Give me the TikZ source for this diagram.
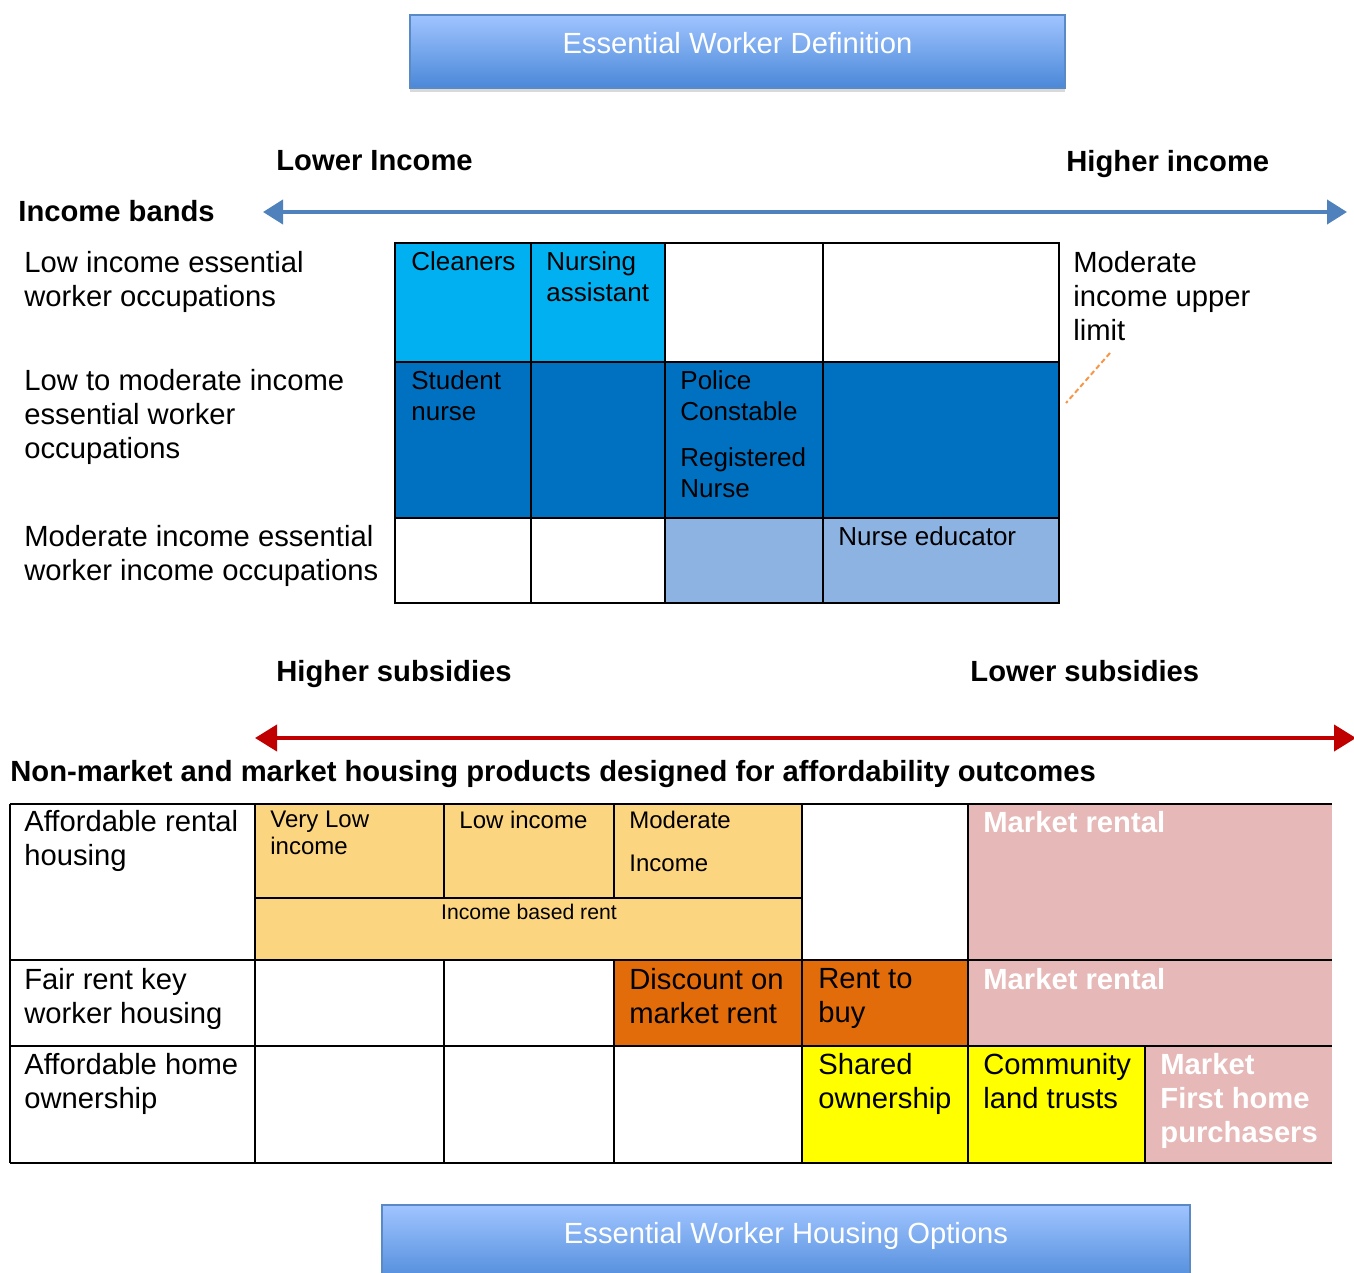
\documentclass[tikz,border=0pt]{standalone}
\usepackage{fontspec}
\setmainfont{Liberation Sans}
\usetikzlibrary{arrows.meta,shadows}
\definecolor{bandcyan}{HTML}{00B0F0}
\definecolor{banddark}{HTML}{0070C0}
\definecolor{bandlight}{HTML}{8DB3E2}
\definecolor{rentpale}{HTML}{FCD580}
\definecolor{rentorange}{HTML}{E36C0A}
\definecolor{ownyellow}{HTML}{FFFF00}
\definecolor{marketpink}{HTML}{E6B8B7}
\definecolor{arrowblue}{HTML}{4F81BD}
\definecolor{arrowred}{HTML}{C00000}
\definecolor{limitorange}{HTML}{F79646}
\definecolor{boxtop}{HTML}{A0C4FF}
\definecolor{boxbottom}{HTML}{4A88D8}
\definecolor{boxborder}{HTML}{5A8AC6}
\tikzset{
  every node/.append style={inner sep=0pt,anchor=north west,align=left},
  lbl/.style={font=\fontsize{14.6}{17}\selectfont},
  hdr/.style={font=\bfseries\fontsize{14.6}{17}\selectfont},
  cellt/.style={font=\fontsize{13}{15.5}\selectfont},
  smallt/.style={font=\fontsize{12}{13.5}\selectfont},
  mkt/.style={hdr,text=white},
  gridline/.style={line width=1pt,black},
  titlebox/.style={anchor=north,align=center,draw=boxborder,line width=1pt,
    top color=boxtop,bottom color=boxbottom,text=white,
    font=\fontsize{14.6}{17}\selectfont,
    drop shadow={shadow xshift=0pt,shadow yshift=-2pt,opacity=0.3}},
  bandarrow/.style={draw=arrowblue,fill=arrowblue,line width=2pt,
    {Triangle[length=10pt,width=12pt]}-{Triangle[length=10pt,width=12pt]}},
  subsarrow/.style={draw=arrowred,fill=arrowred,line width=2pt,
    {Triangle[length=11pt,width=13pt]}-{Triangle[length=11pt,width=13pt]}}
}

\begin{document}
\begin{tikzpicture}[x=0.5pt,y=-0.5pt]
  \useasboundingbox (0,0) rectangle (1354,1273);

  % title boxes
  \node[titlebox,minimum width=327.5pt,text height=19.5pt,text depth=17pt]
    (defbox) at (737.5,14) {Essential Worker Definition};
  \node[titlebox,minimum width=404pt,text height=19pt,text depth=22pt]
    (optbox) at (786,1204) {Essential Worker Housing Options};

  % income axis
  \node[hdr] (lowinc) at (276,150) {Lower Income};
  \node[hdr] (highinc) at (1066,150) {Higher income};
  \node[hdr] (bands) at (18,200) {Income bands};
  \coordinate (incleft) at (263,212);
  \coordinate (incright) at (1347,212);
  \draw[bandarrow] (incleft) -- (incright);

  % income band table
  \fill[bandcyan] (395,243) rectangle (665,362);
  \fill[banddark] (395,362) rectangle (1059,518);
  \fill[bandlight] (665,518) rectangle (1059,603);
  \draw[gridline] (395,243) rectangle (1059,603);
  \foreach \yy in {362,518} {
    \draw[gridline] (395,\yy) -- (1059,\yy);
  }
  \foreach \xx in {531,665,823} {
    \draw[gridline] (\xx,243) -- (\xx,603);
  }
  \node[lbl] (lowocc) at (24,251) {Low income essential\\worker occupations};
  \node[lbl] (midocc) at (24,369) {Low to moderate income\\essential worker\\occupations};
  \node[lbl] (modocc) at (24,525) {Moderate income essential\\worker income occupations};
  \node[lbl] (upper) at (1073,251) {Moderate\\income upper\\limit};
  \coordinate (limittop) at (1110,353);
  \coordinate (limitbot) at (1066,403);
  \draw[limitorange,line width=1pt,dash pattern=on 2.5pt off 1.5pt] (limittop) -- (limitbot);
  \node[cellt] (cleaners) at (411,251) {Cleaners};
  \node[cellt] (nursing) at (546,251) {Nursing\\assistant};
  \node[cellt] (student) at (411,370) {Student\\nurse};
  \node[cellt] (police) at (680,370) {Police\\Constable\\[7.5pt]Registered\\Nurse};
  \node[cellt] (educator) at (838,526) {Nurse educator};

  % subsidy axis
  \node[hdr] (highsub) at (276,660) {Higher subsidies};
  \node[hdr] (lowsub) at (970,660) {Lower subsidies};
  \coordinate (subleft) at (255,738);
  \coordinate (subright) at (1356,738);
  \draw[subsarrow] (subleft) -- (subright);
  \node[hdr] (products) at (10,760) {Non-market and market housing products designed for affordability outcomes};

  % housing products table
  \fill[rentpale] (255,804) rectangle (802,960);
  \fill[marketpink] (968,804) rectangle (1332,1046);
  \fill[rentorange] (614,960) rectangle (968,1046);
  \fill[ownyellow] (802,1046) rectangle (1145,1163);
  \fill[marketpink] (1145,1046) rectangle (1332,1163);
  \foreach \yy in {804,960,1046,1163} {
    \draw[gridline] (10,\yy) -- (1332,\yy);
  }
  \draw[gridline] (255,898) -- (802,898);
  \foreach \xx in {10,255,802,968} {
    \draw[gridline] (\xx,804) -- (\xx,1163);
  }
  \foreach \xx in {444,614} {
    \draw[gridline] (\xx,804) -- (\xx,898);
    \draw[gridline] (\xx,960) -- (\xx,1163);
  }
  \draw[gridline] (1145,1046) -- (1145,1163);

  \node[lbl] (rentrow) at (24,810) {Affordable rental\\housing};
  \node[lbl] (fairrow) at (24,968) {Fair rent key\\worker housing};
  \node[lbl] (homerow) at (24,1053) {Affordable home\\ownership};
  \node[smallt] (verylow) at (270,811) {Very Low\\income};
  \node[smallt] (lowrent) at (459,811) {Low income};
  \node[smallt] (modrent) at (629,811) {Moderate\\[8pt]Income};
  \node[anchor=north,font=\fontsize{10.6}{12}\selectfont] (incrent) at (529,904) {Income based rent};
  \node[mkt] (market1) at (983,811) {Market rental};
  \node[lbl] (discount) at (629,968) {Discount on\\market rent};
  \node[lbl] (renttobuy) at (818,968) {Rent to\\buy};
  \node[mkt] (market2) at (983,968) {Market rental};
  \node[lbl] (shared) at (818,1053) {Shared\\ownership};
  \node[lbl] (clt) at (983,1053) {Community\\land trusts};
  \node[mkt] (firsthome) at (1160,1053) {Market\\First home\\purchasers};
\end{tikzpicture}
\end{document}
